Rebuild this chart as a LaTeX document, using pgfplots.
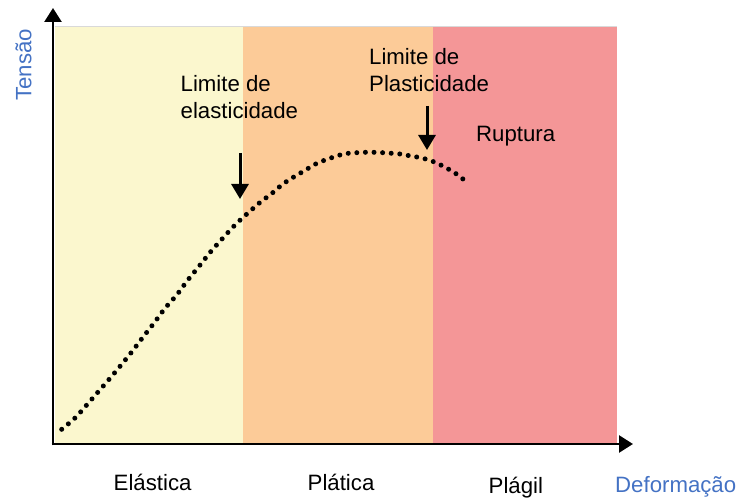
\documentclass[border=0pt]{standalone}
\usepackage{fontspec}
\setmainfont{Liberation Sans}
\usepackage{pgfplots}
\pgfplotsset{compat=1.18}
\usetikzlibrary{arrows.meta}
\definecolor{cyel}{RGB}{251,247,206}
\definecolor{corg}{RGB}{252,203,152}
\definecolor{cpnk}{RGB}{244,150,151}
\definecolor{cblue}{RGB}{68,114,196}
\begin{document}
\begin{tikzpicture}
\begin{axis}[
  x=1bp, y=1bp,
  xmin=0, xmax=583, ymin=0, ymax=436,
  hide axis, clip=false,
]
% regions
\addplot[fill=cyel, draw=none] coordinates {(2,0) (190,0) (190,417) (2,417)} -- cycle;
\addplot[fill=corg, draw=none] coordinates {(190,0) (380,0) (380,417) (190,417)} -- cycle;
\addplot[fill=cpnk, draw=none] coordinates {(380,0) (563.6,0) (563.6,417) (380,417)} -- cycle;
\draw[black!15, line width=1bp] (axis cs:2,417) -- (axis cs:563.6,417);
% curve
\addplot[black, smooth, line width=5bp, line cap=round, dash pattern=on 0bp off 8.6bp] coordinates {
(8.7,14.7) (22,26) (33.7,39) (45.3,52.3) (57,65.7) (68.7,79.7) (79.7,93.3)
(90.3,107.3) (101.3,121.3) (112,135.7) (123.7,149) (134.3,163.3) (146.3,178)
(157.7,192.3) (169.7,205.7) (182,219) (195.3,231.3) (208.7,243) (217,249)
(228.7,259) (237,264.7) (245.3,269.7) (253.7,274.7) (262,279.7) (270.3,283.3)
(278.7,286.3) (287,289) (295.3,290.7) (303.7,291.3) (312,291.7) (320.3,291.7)
(329.7,291.3) (338.7,290.7) (347,290) (356.3,288.3) (365.3,286.7) (373.7,284.7)
(383,281.3) (391,277.3) (398.7,273) (406.3,268) (413.7,261.7)
};
% axes
\draw[line width=2.6bp, -{Triangle[length=14bp,width=17bp]}] (axis cs:0,-1.3) -- (axis cs:0,436);
\draw[line width=2.6bp, -{Triangle[length=14bp,width=17bp]}] (axis cs:-1.3,0) -- (axis cs:580,0);
% annotation arrows
\draw[line width=3bp, -{Triangle[length=15bp,width=17bp]}] (axis cs:187,291) -- (axis cs:187,245);
\draw[line width=3bp, -{Triangle[length=15bp,width=17bp]}] (axis cs:374,338) -- (axis cs:374,294);
% texts
\def\f{\fontsize{22.3}{26}\selectfont}
\node[anchor=base west, inner sep=0pt] at (axis cs:127.5,352.3) {\f Limite de};
\node[anchor=base west, inner sep=0pt] at (axis cs:127.5,325.7) {\f elasticidade};
\node[anchor=base west, inner sep=0pt] at (axis cs:316,379) {\f Limite de};
\node[anchor=base west, inner sep=0pt] at (axis cs:316,352.3) {\f Plasticidade};
\node[anchor=base west, inner sep=0pt] at (axis cs:423,302.3) {\f Ruptura};
\node[anchor=base west, inner sep=0pt] at (axis cs:60.5,-46.7) {\f Elástica};
\node[anchor=base west, inner sep=0pt] at (axis cs:254.5,-46.7) {\f Plática};
\node[anchor=base west, inner sep=0pt] at (axis cs:435.5,-50) {\f Plágil};
\node[anchor=base west, inner sep=0pt, text=cblue] at (axis cs:562,-49) {\f Deformação};
\node[anchor=base west, inner sep=0pt, rotate=90, text=cblue] at (axis cs:-21.5,343) {\f Tensão};
\coordinate (bl) at (axis cs:-53,-59);
\coordinate (tr) at (axis cs:685,444);
\end{axis}
\pgfresetboundingbox
\path[use as bounding box] (bl) rectangle (tr);
\end{tikzpicture}
\end{document}
